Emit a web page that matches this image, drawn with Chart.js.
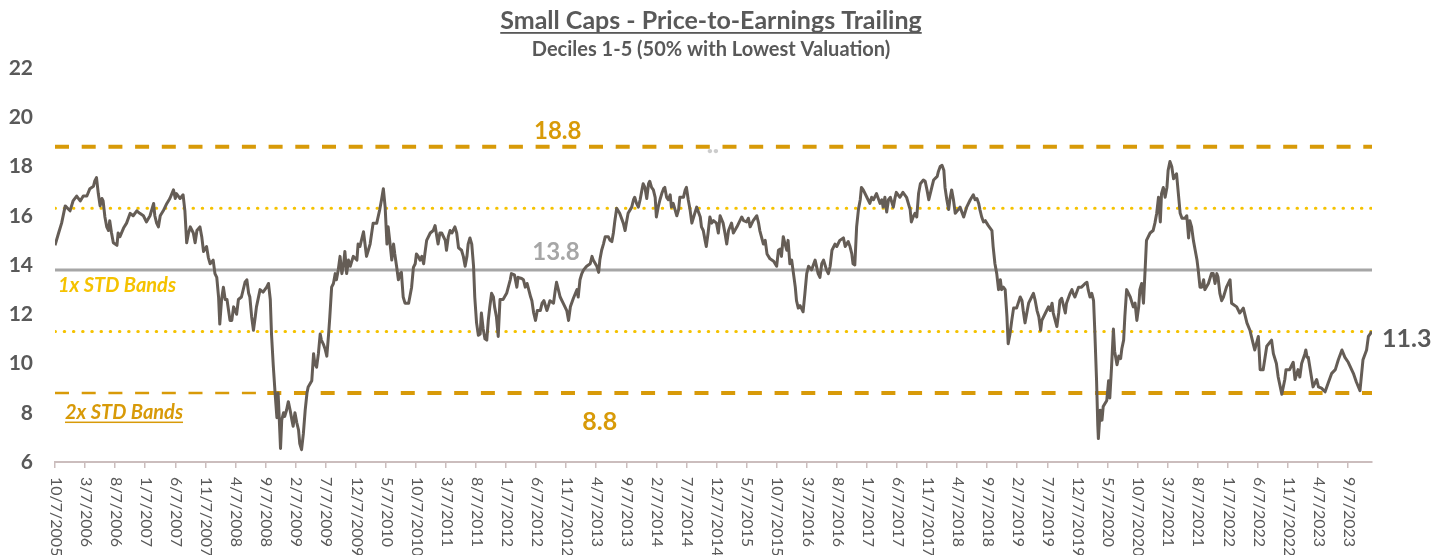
<!DOCTYPE html>
<html>
<head>
<meta charset="utf-8">
<script src="https://cdn.jsdelivr.net/npm/chart.js@4.4.1/dist/chart.umd.min.js"></script>
<style>
  html, body { margin: 0; padding: 0; background: #fff; }
  #wrap { width: 1442px; height: 555px; }
</style>
</head>
<body>
<div id="wrap"><canvas id="pe-chart"></canvas></div>
<script>
// x values are months since 10/7/2005, y is trailing P/E
const pe2005to2011 = [
  [0, 14.8], [0.6, 15.3], [1.1, 15.7], [1.7, 16.4], [2.5, 16.2], [3.0, 16.6], [3.6, 16.8], [4.2, 16.6],
  [4.7, 16.8], [5.3, 16.8], [5.8, 17.1], [6.4, 17.2], [6.6, 17.4], [6.9, 17.55], [7.2, 16.9], [7.5, 16.4],
  [7.8, 16.7], [8.0, 16.6], [8.3, 15.95], [8.6, 15.55], [8.9, 15.4], [9.1, 15.8], [9.4, 15.3], [9.7, 14.9],
  [10.3, 14.8], [10.5, 15.3], [10.8, 15.15], [11.4, 15.5], [11.9, 15.7], [12.5, 16.1], [13.0, 16.0], [13.6, 16.2],
  [14.1, 16.1], [14.7, 16.0], [15.2, 15.75], [15.8, 16.0], [16.4, 16.5], [16.6, 16.0], [16.9, 15.7], [17.2, 15.55],
  [17.5, 16.0], [18.0, 16.2], [18.6, 16.5], [19.1, 16.7], [19.7, 17.05], [20.0, 16.7], [20.2, 16.9], [20.8, 16.7],
  [21.3, 16.85], [21.6, 16.2], [21.9, 14.9], [22.2, 15.3], [22.5, 15.55], [23.0, 15.3], [23.3, 14.9], [23.6, 15.4],
  [24.1, 15.55], [24.4, 15.15], [24.7, 14.55], [25.2, 14.75], [25.5, 14.3], [25.8, 14.05], [26.3, 14.2], [26.6, 13.65],
  [26.9, 13.5], [27.2, 12.7], [27.4, 11.6], [27.7, 12.6], [28.0, 13.1], [28.3, 12.6], [28.6, 12.6], [29.1, 11.75],
  [29.4, 11.75], [29.7, 12.3], [30.2, 12.0], [30.5, 12.6], [31.0, 12.7], [31.6, 13.3], [31.9, 13.4], [32.2, 12.85],
  [32.4, 12.7], [32.7, 11.9], [33.0, 11.35], [33.3, 11.9], [33.5, 12.3], [34.1, 13.0], [34.6, 12.9], [35.2, 13.1],
  [35.5, 13.25], [35.8, 12.6], [36.0, 11.2], [36.3, 9.9], [36.6, 8.8], [36.9, 7.8], [37.1, 8.8], [37.4, 7.15],
  [37.5, 6.55], [37.7, 7.7], [38.0, 8.0], [38.2, 7.85], [38.5, 8.1], [38.8, 8.45], [39.1, 8.1], [39.4, 7.7],
  [39.6, 7.45], [39.9, 8.0], [40.2, 7.6], [40.5, 7.3], [40.7, 6.75], [41.0, 6.5], [41.3, 7.15], [41.6, 8.1],
  [41.9, 8.8], [42.1, 9.05], [42.7, 9.3], [43.0, 10.4], [43.2, 10.0], [43.5, 9.85], [43.8, 10.4], [44.1, 11.2],
  [44.3, 10.95], [44.6, 10.8], [44.9, 10.6], [45.2, 10.3], [45.5, 11.2], [45.7, 11.9], [46.0, 13.1], [46.3, 13.25],
  [46.6, 13.65], [46.8, 13.4], [47.1, 13.8], [47.4, 14.35], [47.7, 13.65], [48.0, 14.05], [48.2, 14.55], [48.5, 13.65],
  [48.8, 14.2], [49.1, 13.95], [49.6, 14.35], [50.2, 14.2], [50.4, 14.85], [50.7, 14.75], [51.3, 15.35], [51.6, 14.75],
  [51.8, 14.35], [52.1, 14.6], [52.4, 14.85], [52.9, 15.7], [53.5, 15.7], [54.0, 16.25], [54.3, 16.65], [54.6, 17.1],
  [54.9, 16.35], [55.2, 14.85], [55.4, 15.55], [55.7, 14.9], [56.0, 14.2], [56.3, 14.85], [56.5, 14.45], [56.8, 13.95],
  [57.1, 13.4], [57.4, 13.65], [57.6, 13.7], [57.9, 12.7], [58.2, 12.45], [58.8, 12.45], [59.0, 12.7], [59.3, 13.1],
  [59.6, 13.9], [59.9, 14.05], [60.1, 14.45], [60.4, 14.35], [60.7, 14.2], [61.0, 14.35], [61.3, 14.05], [61.5, 14.45],
  [61.8, 15.0], [62.4, 15.3], [62.9, 15.4], [63.2, 15.6], [63.5, 15.15], [63.7, 14.85], [64.0, 15.3], [64.3, 15.3],
  [64.9, 15.0], [65.1, 14.6], [65.4, 15.15], [65.7, 15.4], [66.0, 15.3], [66.5, 15.55], [66.8, 15.3], [67.1, 14.7],
  [67.6, 14.6], [67.9, 14.35], [68.2, 13.95], [68.5, 14.35], [68.7, 14.85], [69.0, 15.1], [69.3, 14.85], [69.6, 13.95],
  [69.8, 12.7], [70.1, 11.65], [70.4, 11.15]
];

const pe2011to2018 = [
  [70.7, 11.2], [70.9, 12.05], [71.2, 11.4], [71.5, 11.0], [71.8, 10.95], [72.05, 11.75], [72.3, 12.3], [72.6, 12.85],
  [72.9, 12.7], [73.1, 12.3], [73.4, 11.9], [73.7, 11.1], [74.0, 12.6], [74.5, 12.6], [75.1, 12.85], [75.7, 13.4],
  [75.9, 13.65], [76.4, 13.6], [76.8, 13.1], [77.0, 13.5], [77.6, 13.45], [77.9, 13.4], [78.2, 13.1], [78.5, 13.25],
  [79.1, 12.7], [79.3, 12.55], [79.6, 12.05], [79.9, 11.75], [80.2, 12.15], [80.7, 12.15], [81.0, 12.45], [81.3, 12.55],
  [81.8, 12.15], [82.0, 12.3], [82.3, 12.55], [82.9, 12.45], [83.2, 13.0], [83.4, 13.3], [83.7, 13.0], [84.0, 12.7],
  [84.5, 12.45], [85.1, 12.15], [85.4, 11.75], [85.7, 12.3], [86.2, 12.65], [86.8, 13.0], [87.0, 12.7], [87.3, 13.4],
  [87.6, 13.65], [87.9, 13.8], [88.4, 13.95], [89.0, 14.05], [89.3, 14.35], [89.5, 14.2], [90.1, 13.95], [90.4, 13.7],
  [90.6, 14.2], [90.9, 14.6], [91.2, 14.85], [91.5, 15.15], [92.0, 15.15], [92.3, 15.0], [92.6, 14.95], [92.85, 15.3],
  [93.1, 15.8], [93.4, 16.3], [93.9, 16.1], [94.5, 15.7], [94.8, 15.4], [95.0, 15.7], [95.3, 16.1], [95.9, 16.35],
  [96.2, 16.65], [96.4, 16.75], [96.7, 16.5], [97.0, 16.35], [97.3, 16.65], [97.6, 17.05], [97.8, 17.3], [98.1, 17.15],
  [98.4, 16.7], [98.7, 17.3], [98.9, 17.4], [99.2, 17.15], [99.5, 17.05], [99.8, 16.75], [100.0, 15.95], [100.3, 16.35],
  [100.6, 16.65], [100.9, 16.9], [101.2, 17.1], [101.4, 17.15], [101.7, 16.75], [102.0, 16.65], [102.3, 16.85], [102.5, 16.35],
  [102.8, 16.5], [103.1, 16.25], [103.4, 16.0], [103.7, 16.25], [103.9, 16.75], [104.5, 16.75], [104.8, 17.05], [105.0, 17.15],
  [105.3, 16.65], [105.6, 16.25], [105.9, 15.7], [106.2, 15.95], [106.7, 16.35], [107.3, 15.95], [107.5, 15.55], [107.8, 15.4],
  [108.1, 15.0], [108.3, 14.75], [108.6, 15.3], [108.9, 15.95], [109.2, 15.7], [109.5, 15.8], [110.0, 15.7], [110.3, 15.3],
  [110.6, 16.0], [111.1, 15.7], [111.4, 15.3], [111.7, 14.85], [112.0, 15.4], [112.5, 15.7], [112.8, 15.3], [113.4, 15.55],
  [113.9, 15.8], [114.2, 15.95], [114.5, 15.8], [115.0, 15.75], [115.3, 15.9], [115.6, 15.55], [116.1, 15.8], [116.7, 16.0],
  [117.0, 15.7], [117.2, 15.4], [117.8, 14.85], [118.1, 15.0], [118.4, 14.45], [118.9, 14.25], [119.5, 14.15], [120.0, 13.95],
  [120.3, 14.6], [120.6, 14.65], [120.8, 14.35], [121.1, 15.15], [121.4, 14.85], [121.7, 14.6], [121.9, 15.0], [122.2, 14.05],
  [122.5, 14.2], [122.8, 13.65], [123.1, 13.1], [123.3, 12.55], [123.6, 12.25], [123.9, 12.35], [124.4, 12.1], [124.7, 12.85],
  [125.0, 13.65], [125.3, 13.95], [125.8, 13.8], [126.4, 14.2], [126.9, 13.65], [127.2, 13.5], [127.5, 14.05], [127.8, 14.2],
  [128.3, 13.8], [128.6, 13.65], [128.9, 13.95], [129.2, 14.6], [129.7, 14.85], [130.0, 14.75], [130.5, 15.0], [131.1, 15.1],
  [131.4, 14.75], [131.9, 14.95], [132.2, 14.75], [132.5, 14.45], [132.7, 14.05], [133.0, 14.0], [133.3, 15.55], [133.6, 16.25],
  [133.9, 16.65], [134.1, 17.15], [134.4, 17.05], [135.0, 16.75], [135.5, 16.5], [135.8, 16.75], [136.1, 16.65], [136.6, 16.9],
  [137.2, 16.5], [137.5, 16.65], [137.7, 16.35], [138.0, 16.75], [138.3, 16.15], [138.6, 16.65], [138.9, 16.75], [139.4, 16.35],
  [139.7, 16.75], [139.9, 16.95], [140.5, 16.75], [141.0, 16.95], [141.6, 16.75], [142.2, 16.25], [142.4, 15.75], [142.7, 15.95],
  [143.0, 16.1], [143.3, 15.95], [143.6, 16.9], [143.9, 17.3], [144.4, 17.45], [144.7, 17.4], [145.0, 17.05], [145.3, 16.65],
  [145.8, 17.15], [146.1, 17.45], [146.7, 17.6], [146.9, 17.8], [147.2, 18.0], [147.5, 18.05], [147.8, 17.85], [148.0, 17.15],
  [148.3, 16.65], [148.6, 16.25], [148.8, 16.65], [149.1, 17.05], [149.4, 16.65], [149.7, 16.1], [150.2, 16.25]
];

const pe2018to2024 = [
  [150.5, 16.35], [151.1, 15.95], [151.6, 16.35], [152.2, 16.65], [152.7, 16.85], [153.0, 16.65], [153.3, 16.7], [153.6, 16.5],
  [153.8, 16.25], [154.1, 15.95], [154.4, 15.75], [154.7, 15.8], [155.2, 15.6], [155.8, 15.4], [156.0, 14.75], [156.3, 14.05],
  [156.6, 13.65], [156.9, 13.0], [157.2, 13.4], [157.4, 13.0], [157.7, 13.1], [158.0, 13.0], [158.3, 11.9], [158.5, 10.8],
  [158.8, 11.2], [159.1, 11.75], [159.4, 12.25], [159.9, 12.25], [160.5, 12.7], [160.8, 12.55], [161.0, 12.15], [161.3, 11.65],
  [161.6, 12.05], [161.9, 12.45], [162.4, 12.7], [162.7, 12.85], [163.0, 12.55], [163.3, 12.15], [163.6, 11.9], [163.9, 11.35],
  [164.1, 11.75], [164.7, 12.05], [165.2, 12.3], [165.5, 12.15], [165.8, 12.45], [166.0, 12.05], [166.6, 11.5], [166.9, 12.05],
  [167.1, 12.55], [167.4, 12.65], [168.0, 12.05], [168.2, 12.45], [168.8, 12.85], [169.1, 13.0], [169.3, 12.85], [169.6, 12.7],
  [170.2, 13.1], [170.7, 13.1], [171.3, 13.25], [171.6, 13.3], [171.8, 13.0], [172.1, 12.7], [172.4, 12.85], [172.7, 12.55],
  [172.9, 11.35], [173.2, 9.3], [173.4, 7.5], [173.5, 6.95], [173.8, 8.1], [174.1, 7.7], [174.3, 8.25], [174.9, 8.5],
  [175.2, 9.3], [175.4, 8.6], [175.7, 9.9], [176.0, 11.4], [176.2, 10.5], [176.6, 9.95], [176.9, 10.3], [177.2, 10.2],
  [177.4, 10.6], [177.7, 10.95], [177.9, 11.9], [178.2, 13.0], [178.8, 12.7], [179.3, 12.3], [179.6, 12.45], [179.9, 11.75],
  [180.2, 12.3], [180.4, 13.0], [180.7, 13.25], [181.0, 12.45], [181.3, 13.95], [181.5, 15.0], [182.1, 15.3], [182.6, 15.4],
  [182.9, 15.7], [183.2, 16.1], [183.5, 16.75], [183.8, 15.75], [184.0, 16.9], [184.3, 17.15], [184.6, 16.75], [184.9, 17.15],
  [185.1, 17.85], [185.4, 18.2], [185.7, 18.0], [186.0, 17.5], [186.5, 17.7], [186.8, 16.9], [187.1, 16.1], [187.4, 15.9],
  [187.9, 15.9], [188.2, 16.0], [188.5, 15.1], [188.7, 15.8], [189.0, 15.55], [189.3, 15.0], [189.6, 14.6], [189.9, 14.2],
  [190.1, 13.8], [190.4, 13.1], [190.7, 13.1], [191.0, 13.4], [191.2, 13.0], [191.8, 13.25], [192.3, 13.65], [192.6, 13.65],
  [192.9, 13.25], [193.2, 13.65], [193.4, 13.5], [193.7, 12.85], [194.0, 12.55], [194.3, 12.7], [194.8, 13.1], [195.4, 13.4],
  [195.65, 12.45], [196.5, 12.3], [197.0, 12.05], [197.6, 12.25], [198.2, 11.65], [198.7, 11.35], [199.25, 10.8], [199.5, 10.55],
  [200.1, 11.1], [200.4, 9.75], [200.9, 9.75], [201.5, 10.7], [202.3, 10.95], [202.6, 10.4], [203.1, 10.0], [203.4, 9.45],
  [204.0, 8.75], [204.5, 9.35], [204.7, 9.75], [205.3, 9.75], [205.9, 10.05], [206.2, 9.35], [206.7, 9.75], [207.0, 9.45],
  [207.3, 10.0], [207.85, 10.4], [208.0, 10.55], [208.2, 10.25], [208.4, 10.25], [209.2, 9.05], [209.8, 9.35], [210.1, 9.05],
  [210.6, 9.0], [211.2, 8.85], [211.7, 9.2], [212.3, 9.6], [212.9, 9.75], [213.4, 10.15], [214.0, 10.55], [214.5, 10.25],
  [215.05, 10.05], [215.9, 9.6], [216.4, 9.25], [217.0, 8.9], [217.3, 9.65], [217.5, 10.15], [218.1, 10.55], [218.4, 11.1],
  [219.0, 11.3]
];

// one tick label every 5 months
const xTickLabels = [
  '10/7/2005', '3/7/2006', '8/7/2006', '1/7/2007', '6/7/2007', '11/7/2007', '4/7/2008', '9/7/2008',
  '2/7/2009', '7/7/2009', '12/7/2009', '5/7/2010', '10/7/2010', '3/7/2011', '8/7/2011', '1/7/2012',
  '6/7/2012', '11/7/2012', '4/7/2013', '9/7/2013', '2/7/2014', '7/7/2014', '12/7/2014', '5/7/2015',
  '10/7/2015', '3/7/2016', '8/7/2016', '1/7/2017', '6/7/2017', '11/7/2017', '4/7/2018', '9/7/2018',
  '2/7/2019', '7/7/2019', '12/7/2019', '5/7/2020', '10/7/2020', '3/7/2021', '8/7/2021', '1/7/2022',
  '6/7/2022', '11/7/2022', '4/7/2023', '9/7/2023'
];
const tickStepMonths = 5;
const yTicks = [6, 8, 10, 12, 14, 16, 18, 20, 22];

const meanPE = 13.8;
const oneStdUp = 16.3;
const oneStdDown = 11.3;
const twoStdUp = 18.8;
const twoStdDown = 8.8;
const lastMonth = 219;

const peSeries = pe2005to2011.concat(pe2011to2018, pe2018to2024);
const lastValue = peSeries[peSeries.length - 1][1];

const GOLD = '#D89A08';
const YELLOW = '#F5C200';
const GRAY = '#A6A6A6';
const LINE = '#655D56';
const TEXT = '#595959';

Chart.defaults.font.family = 'Lato, "Open Sans", sans-serif';

const hline = (value, from, to) => [{ x: from, y: value }, { x: to, y: value }];

const textLayer = {
  id: 'textLayer',
  afterDraw(chart) {
    const { ctx, chartArea, scales: { x, y } } = chart;
    ctx.save();

    // titles
    ctx.fillStyle = TEXT;
    ctx.textAlign = 'center';
    ctx.textBaseline = 'alphabetic';
    ctx.font = 'bold 25px Lato';
    const title = 'Small Caps - Price-to-Earnings Trailing';
    ctx.fillText(title, 711, 29);
    const tw = ctx.measureText(title).width;
    ctx.fillRect(711 - tw / 2, 32, tw, 1.8);
    ctx.font = 'bold 20px Lato';
    ctx.fillText('Deciles 1-5 (50% with Lowest Valuation)', 711, 56);

    // band values
    ctx.font = 'bold 24px Lato';
    ctx.fillStyle = GOLD;
    ctx.fillText(twoStdUp.toFixed(1), x.getPixelForValue(83.6), y.getPixelForValue(twoStdUp) - 8);
    ctx.font = 'bold 25px Lato';
    ctx.fillText(twoStdDown.toFixed(1), x.getPixelForValue(90.6), y.getPixelForValue(twoStdDown) + 37);
    ctx.font = 'bold 24px Lato';
    ctx.fillStyle = GRAY;
    ctx.fillText(meanPE.toFixed(1), x.getPixelForValue(83.3), y.getPixelForValue(meanPE) - 10);
    ctx.fillStyle = TEXT;
    ctx.textAlign = 'left';
    ctx.textBaseline = 'middle';
    ctx.font = 'bold 25px Lato';
    ctx.fillText(lastValue.toFixed(1), chartArea.right + 10, y.getPixelForValue(lastValue) + 7);

    // band captions
    ctx.font = 'italic bold 20px Lato';
    ctx.fillStyle = YELLOW;
    ctx.fillText('1x STD Bands', chartArea.left + 3, y.getPixelForValue(meanPE) + 16);
    ctx.fillStyle = GOLD;
    ctx.textBaseline = 'alphabetic';
    const cap2 = '2x STD Bands';
    const c2y = y.getPixelForValue(twoStdDown) + 26;
    ctx.fillText(cap2, chartArea.left + 10, c2y);
    ctx.fillRect(chartArea.left + 10, c2y + 2.5, ctx.measureText(cap2).width, 1.5);

    // small grey marks under the top band
    ctx.fillStyle = '#CCCCCC';
    ctx.font = 'bold 10px Lato';
    ctx.textAlign = 'center';
    ctx.fillText('••', x.getPixelForValue(109.4), y.getPixelForValue(18.5));

    // x tick labels, rotated to read top to bottom
    ctx.font = '16px Lato';
    ctx.fillStyle = TEXT;
    ctx.textAlign = 'left';
    ctx.textBaseline = 'middle';
    xTickLabels.forEach((label, i) => {
      ctx.save();
      ctx.translate(x.getPixelForValue(i * tickStepMonths) + 1, chartArea.bottom + 15);
      ctx.rotate(Math.PI / 2);
      ctx.fillText(label, 0, 0);
      ctx.restore();
    });
    ctx.restore();
  }
};

const ctx = document.getElementById('pe-chart').getContext('2d');

const chart = new Chart(ctx, {
  type: 'line',
  data: {
    datasets: [
      {
        label: 'P/E Trailing',
        data: peSeries.map(p => ({ x: p[0], y: p[1] })),
        borderColor: LINE,
        borderWidth: 3,
        pointRadius: 0,
        tension: 0,
        borderJoinStyle: 'round',
        order: 0
      },
      {
        label: 'Mean',
        data: hline(meanPE, 0, lastMonth),
        borderColor: GRAY,
        borderWidth: 3,
        pointRadius: 0,
        order: 2
      },
      {
        label: '+1 STD',
        data: hline(oneStdUp, 0, lastMonth),
        borderColor: YELLOW,
        borderWidth: 3,
        borderDash: [0.5, 8.7],
        borderCapStyle: 'round',
        pointRadius: 0,
        order: 3
      },
      {
        label: '-1 STD',
        data: hline(oneStdDown, 0, lastMonth),
        borderColor: YELLOW,
        borderWidth: 3,
        borderDash: [0.5, 8.7],
        borderCapStyle: 'round',
        pointRadius: 0,
        order: 3
      },
      {
        label: '+2 STD',
        data: hline(twoStdUp, 0, lastMonth),
        borderColor: GOLD,
        borderWidth: 4,
        borderDash: [14, 12.7],
        pointRadius: 0,
        order: 4
      },
      {
        label: '-2 STD',
        data: hline(twoStdDown, 0, 35.3),
        borderColor: GOLD,
        borderWidth: 2.5,
        borderDash: [14, 12.7],
        pointRadius: 0,
        order: 4
      },
      {
        label: '-2 STD',
        data: hline(twoStdDown, 35.3, lastMonth),
        borderColor: GOLD,
        borderWidth: 4,
        borderDash: [14, 12.7],
        pointRadius: 0,
        order: 4
      }
    ]
  },
  options: {
    responsive: true,
    maintainAspectRatio: false,
    animation: false,
    events: [],
    layout: { padding: { top: 68, right: 70, bottom: 0, left: 0 } },
    plugins: {
      legend: { display: false },
      tooltip: { enabled: false },
      title: { display: false }
    },
    scales: {
      x: {
        type: 'linear',
        min: 0,
        max: lastMonth,
        afterBuildTicks: scale => {
          scale.ticks = xTickLabels.map((_, i) => ({ value: i * tickStepMonths }));
        },
        afterFit: scale => { scale.height = 93; },
        ticks: { display: false },
        grid: {
          display: true,
          drawOnChartArea: false,
          drawTicks: true,
          tickLength: 6,
          color: '#CBBDBD',
          lineWidth: 1.5
        },
        border: { display: true, color: '#CBBDBD', width: 2 }
      },
      y: {
        min: 6,
        max: 22,
        afterBuildTicks: scale => {
          scale.ticks = yTicks.map(v => ({ value: v }));
        },
        afterFit: scale => { scale.width = 55; },
        ticks: {
          color: TEXT,
          padding: 22,
          font: { size: 21, weight: 'bold' }
        },
        grid: { display: false, drawTicks: false },
        border: { display: false }
      }
    }
  },
  plugins: [textLayer]
});
</script>
</body>
</html>
